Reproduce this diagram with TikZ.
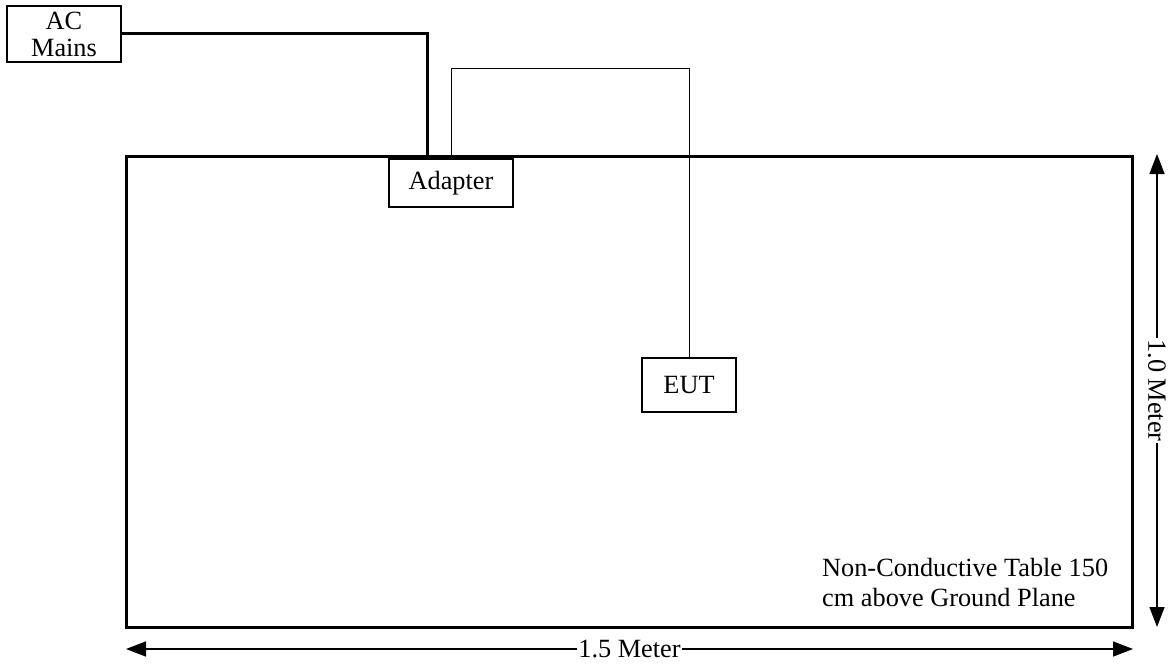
\documentclass[tikz,border=0pt]{standalone}
\usepackage{fontspec}
\setmainfont{Liberation Serif}
\usetikzlibrary{arrows.meta}
\begin{document}
\begin{tikzpicture}[x=1pt,y=-1pt,
  box/.style={draw,line width=1.4pt,inner sep=0pt,align=center,font=\fontsize{26.3}{27}\selectfont},
  thickline/.style={line width=3pt},
  thinline/.style={line width=1pt},
  dimline/.style={line width=1.5pt,{Triangle[length=20pt,width=15pt]}-{Triangle[length=20pt,width=15pt]}},
  dimlabel/.style={fill=white,inner sep=1pt,font=\fontsize{26.3}{27}\selectfont}]
\useasboundingbox (0,0) rectangle (1170,666);
% table
\node[draw,line width=3pt,minimum width=1006pt,minimum height=470pt,inner sep=0pt] (table) at (629,392) {};
\node[anchor=north west,inner sep=0pt,align=left,font=\fontsize{26.3}{30}\selectfont] (tabletext) at (822,558) {Non-Conductive Table 150\\cm above Ground Plane};
% boxes
\node[box,minimum width=114pt,minimum height=56pt,fill=white] (mains) at (64,34) {AC\\Mains};
\node[box,minimum width=124pt,minimum height=48pt,fill=white] (adapter) at (451,183) {Adapter};
\node[box,minimum width=94pt,minimum height=54pt,fill=white] (eut) at (689,385) {EUT};
% connectors
\draw[thickline] (mains.east) -| ([xshift=-24pt]adapter.north);
\draw[thinline] (adapter.north) -- ++(0,-90) -| (eut.north);
% dimensions
\coordinate (v1) at (1157,154);
\coordinate (v2) at (1157,627);
\coordinate (h1) at (126,649);
\coordinate (h2) at (1133,649);
\draw[dimline] (v1) -- node[dimlabel,rotate=-90] (vlabel) {1.0 Meter} (v2);
\draw[dimline] (h1) -- node[dimlabel] (hlabel) {1.5 Meter} (h2);
\end{tikzpicture}
\end{document}
